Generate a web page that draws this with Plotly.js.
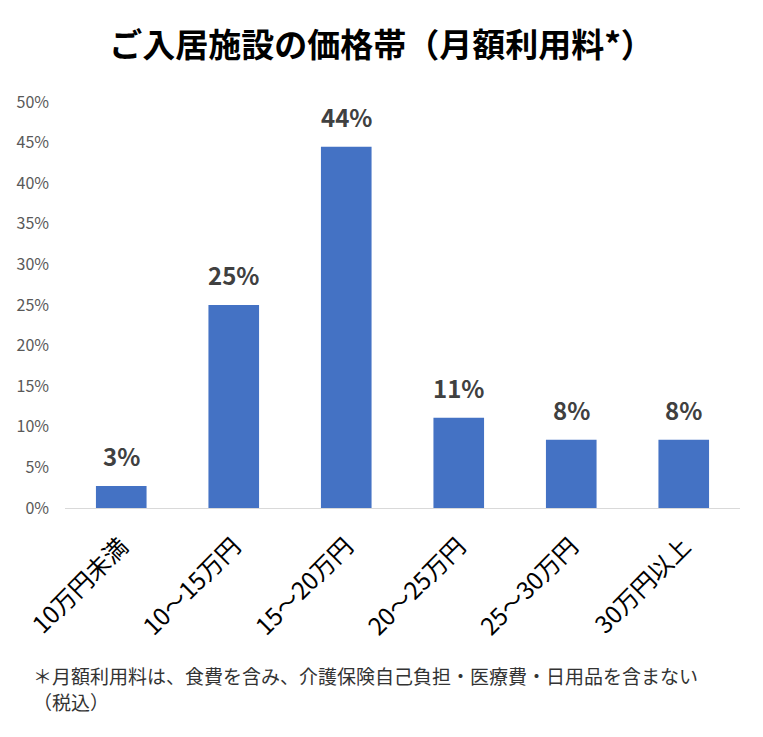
<!DOCTYPE html>
<html>
<head>
<meta charset="utf-8">
<script src="https://cdn.plot.ly/plotly-3.0.1.min.js"></script>
<style>html,body{margin:0;padding:0;background:#fff;}#chart{width:763px;height:737px;}</style>
</head>
<body>
<div id="chart"></div>
<script>
var categories = ['10万円未満', '10～15万円', '15～20万円', '20～25万円', '25～30万円', '30万円以上'];
var values = [2.7, 25.0, 44.5, 11.1, 8.4, 8.4];
var labels = ['3%', '25%', '44%', '11%', '8%', '8%'];
var yTicks = [0, 5, 10, 15, 20, 25, 30, 35, 40, 45, 50];

var FONT = '"Noto Sans CJK JP", "Noto Sans", sans-serif';

var trace = {
  type: 'bar',
  x: categories,
  y: values,
  marker: {color: '#4472C4'},
  hoverinfo: 'none'
};

var annotations = categories.map(function (c, i) {
  return {
    x: c, y: values[i], xref: 'x', yref: 'y',
    text: '<b>' + labels[i] + '</b>',
    showarrow: false, yanchor: 'bottom', yshift: 11,
    font: {family: FONT, size: 24, color: '#404040'}
  };
});
annotations.push({
  xref: 'paper', yref: 'paper', x: -0.05, y: -0.412, xanchor: 'left', yanchor: 'middle',
  text: '＊月額利用料は、食費を含み、介護保険自己負担・医療費・日用品を含まない',
  showarrow: false, font: {family: FONT, size: 19, color: '#333333'}
});
annotations.push({
  xref: 'paper', yref: 'paper', x: -0.05, y: -0.476, xanchor: 'left', yanchor: 'middle',
  text: '（税込）',
  showarrow: false, font: {family: FONT, size: 19, color: '#333333'}
});

var layout = {
  width: 763, height: 737,
  margin: {l: 65, r: 23, t: 102, b: 229},
  paper_bgcolor: '#ffffff', plot_bgcolor: '#ffffff',
  title: {
    text: '<b>ご入居施設の価格帯（月額利用料*）</b>',
    x: 0.5, xanchor: 'center', y: 0.938, yanchor: 'middle',
    font: {family: FONT, size: 33, color: '#000000'}
  },
  bargap: 0.55,
  showlegend: false,
  xaxis: {
    type: 'category',
    tickangle: -45,
    tickfont: {family: FONT, size: 24, color: '#000000'},
    showline: true, linecolor: '#d9d9d9', linewidth: 1,
    showgrid: false, ticks: '', zeroline: false,
    ticklabelstandoff: 14
  },
  yaxis: {
    range: [0, 50],
    tickvals: yTicks,
    ticktext: yTicks.map(function (v) { return v + '%'; }),
    tickfont: {family: FONT, size: 16, color: '#595959'},
    showgrid: false, zeroline: false, showline: false, ticks: '',
    ticklabelstandoff: 15
  },
  annotations: annotations
};

Plotly.newPlot('chart', [trace], layout, {displayModeBar: false, staticPlot: true});
</script>
</body>
</html>
